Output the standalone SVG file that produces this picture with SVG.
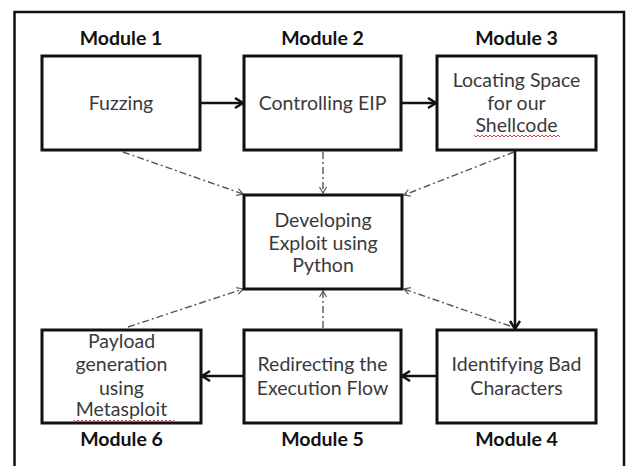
<svg xmlns="http://www.w3.org/2000/svg" width="626" height="466" viewBox="0 0 626 466">
<defs>
<style>
.box{fill:#fff;stroke:#111;stroke-width:3}
.t{font-family:Lato,"Liberation Sans",sans-serif;font-size:19.5px;fill:#3a3a3a;text-anchor:middle}
.lbl{font-family:Lato,"Liberation Sans",sans-serif;font-size:19.5px;font-weight:bold;fill:#111;text-anchor:middle}
.solid{stroke:#111;stroke-width:2.5;fill:none}
.dd{stroke:#555;stroke-width:1.4;fill:none;stroke-dasharray:7 3 2 3}
.wavy{stroke:#d04040;stroke-width:1;fill:none}
</style>
<marker id="ah" markerUnits="userSpaceOnUse" markerWidth="12" markerHeight="14" refX="9" refY="6" orient="auto">
<path d="M1,1 L9,6 L1,11" stroke="#111" stroke-width="2.5" fill="none"/>
</marker>
<marker id="ahd" markerUnits="userSpaceOnUse" markerWidth="10" markerHeight="10" refX="7" refY="4" orient="auto">
<path d="M1,0.5 L7,4 L1,7.5" stroke="#555" stroke-width="1.2" fill="none"/>
</marker>
</defs>
<rect width="626" height="466" fill="#fff"/>
<rect x="14.5" y="12" width="609.5" height="470" fill="none" stroke="#111" stroke-width="2.5"/>

<g id="connectors">
<line class="solid" x1="200" y1="103" x2="243" y2="103" marker-end="url(#ah)"/>
<line class="solid" x1="401" y1="103" x2="436" y2="103" marker-end="url(#ah)"/>
<line class="solid" x1="515" y1="150" x2="515" y2="329" marker-end="url(#ah)"/>
<line class="solid" x1="437" y1="376" x2="402" y2="376" marker-end="url(#ah)"/>
<line class="solid" x1="244" y1="376" x2="202" y2="376" marker-end="url(#ah)"/>
<line class="dd" x1="123" y1="152" x2="243" y2="194" marker-end="url(#ahd)"/>
<line class="dd" x1="323" y1="152" x2="323" y2="193" marker-end="url(#ahd)"/>
<line class="dd" x1="514" y1="152" x2="404" y2="195" marker-end="url(#ahd)"/>
<line class="dd" x1="128" y1="327" x2="243" y2="289" marker-end="url(#ahd)"/>
<line class="dd" x1="323" y1="328" x2="323" y2="291" marker-end="url(#ahd)"/>
<line class="dd" x1="510" y1="326" x2="404" y2="289" marker-end="url(#ahd)"/>
</g>

<g id="module1">
<text class="lbl" x="121" y="45">Module 1</text>
<rect class="box" x="42" y="56" width="158" height="94"/>
<text class="t" x="121" y="110">Fuzzing</text>
</g>
<g id="module2">
<text class="lbl" x="322.5" y="45">Module 2</text>
<rect class="box" x="244" y="56" width="157" height="94"/>
<text class="t" x="322.5" y="110">Controlling EIP</text>
</g>
<g id="module3">
<text class="lbl" x="516.5" y="45">Module 3</text>
<rect class="box" x="437" y="56" width="159" height="94"/>
<text class="t" x="516.5" y="87">Locating Space</text>
<text class="t" x="516.5" y="110">for our</text>
<text class="t" x="516.5" y="132">Shellcode</text>
<path class="wavy" d="M474,135 l2,2 l2,-2 l2,2 l2,-2 l2,2 l2,-2 l2,2 l2,-2 l2,2 l2,-2 l2,2 l2,-2 l2,2 l2,-2 l2,2 l2,-2 l2,2 l2,-2 l2,2 l2,-2 l2,2 l2,-2 l2,2 l2,-2 l2,2 l2,-2 l2,2 l2,-2 l2,2 l2,-2 l2,2 l2,-2 l2,2 l2,-2 l2,2 l2,-2 l2,2 l2,-2 l2,2 l2,-2 l2,2 l2,-2 l2,2"/>
</g>
<g id="center">
<rect class="box" x="244" y="195" width="158" height="94"/>
<text class="t" x="323" y="227">Developing</text>
<text class="t" x="323" y="250">Exploit using</text>
<text class="t" x="323" y="272">Python</text>
</g>
<g id="module4">
<rect class="box" x="437" y="330" width="159" height="93"/>
<text class="t" x="516.5" y="371">Identifying Bad</text>
<text class="t" x="516.5" y="395">Characters</text>
<text class="lbl" x="516.5" y="446">Module 4</text>
</g>
<g id="module5">
<rect class="box" x="244" y="330" width="157" height="93"/>
<text class="t" x="322.5" y="371">Redirecting the</text>
<text class="t" x="322.5" y="395">Execution Flow</text>
<text class="lbl" x="322.5" y="446">Module 5</text>
</g>
<g id="module6">
<rect class="box" x="42" y="330" width="159" height="93"/>
<text class="t" x="121.5" y="348">Payload</text>
<text class="t" x="121.5" y="371">generation</text>
<text class="t" x="121.5" y="395">using</text>
<text class="t" x="121.5" y="416">Metasploit</text>
<path class="wavy" d="M74,420 l2,2 l2,-2 l2,2 l2,-2 l2,2 l2,-2 l2,2 l2,-2 l2,2 l2,-2 l2,2 l2,-2 l2,2 l2,-2 l2,2 l2,-2 l2,2 l2,-2 l2,2 l2,-2 l2,2 l2,-2 l2,2 l2,-2 l2,2 l2,-2 l2,2 l2,-2 l2,2 l2,-2 l2,2 l2,-2 l2,2 l2,-2 l2,2 l2,-2 l2,2 l2,-2 l2,2 l2,-2 l2,2 l2,-2 l2,2 l2,-2 l2,2 l2,-2 l2,2 l2,-2 l2,2 l2,-2"/>
<text class="lbl" x="121.5" y="446">Module 6</text>
</g>
</svg>
